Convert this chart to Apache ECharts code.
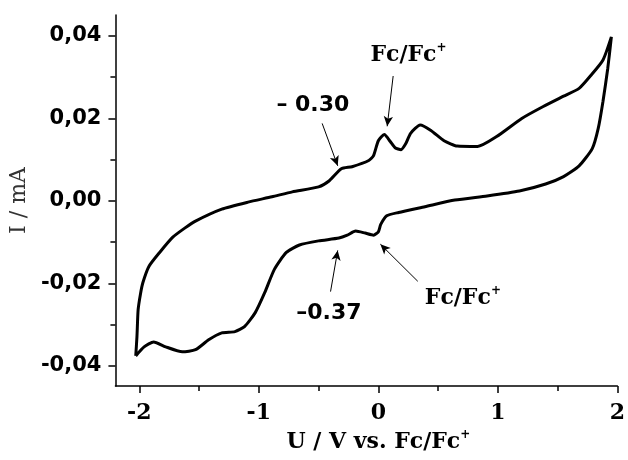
<!DOCTYPE html>
<html>
<head>
<meta charset="utf-8">
<script src="https://cdn.jsdelivr.net/npm/echarts@6/dist/echarts.min.js"></script>
<style>html,body{margin:0;padding:0;background:#fff}#c{width:628px;height:460px}</style>
</head>
<body>
<div id="c"></div>
<script>
// Potential (V vs. Fc/Fc+) and current (mA) along the cyclic scan
var potential = [
  -2.03,-2.02,-2.01,-1.99,-1.97,-1.92,-1.83,-1.72,-1.62,-1.53,-1.31,-1.09,-0.89,-0.72,-0.50,-0.41,-0.31,-0.22,-0.08,-0.04,
  0.00,0.05,0.10,0.14,0.19,0.23,0.27,0.35,0.44,0.55,0.66,0.83,0.99,1.20,1.38,1.55,1.68,1.78,1.88,1.95,
  1.92,1.88,1.84,1.79,1.68,1.55,1.40,1.18,0.91,0.64,0.39,0.17,0.07,0.02,0.00,-0.04,-0.11,-0.19,-0.26,-0.33,
  -0.50,-0.66,-0.77,-0.87,-0.95,-1.03,-1.12,-1.20,-1.31,-1.42,-1.53,-1.64,-1.78,-1.88,-1.96,-2.03
];
var current = [
  -0.0376,-0.0330,-0.0264,-0.0225,-0.0198,-0.0159,-0.0125,-0.0088,-0.0066,-0.0049,-0.0020,-0.0003,0.0010,0.0022,0.0034,0.0049,0.0078,0.0083,0.0098,0.0110,
  0.0146,0.0161,0.0144,0.0129,0.0124,0.0139,0.0164,0.0184,0.0171,0.0146,0.0133,0.0132,0.0156,0.0200,0.0229,0.0254,0.0273,0.0305,0.0342,0.0398,
  0.0322,0.0242,0.0176,0.0127,0.0085,0.0059,0.0041,0.0024,0.0012,0.0002,-0.0014,-0.0028,-0.0036,-0.0057,-0.0075,-0.0083,-0.0078,-0.0073,-0.0083,-0.0090,
  -0.0097,-0.0107,-0.0125,-0.0166,-0.0222,-0.0271,-0.0305,-0.0317,-0.0320,-0.0337,-0.0361,-0.0366,-0.0354,-0.0342,-0.0354,-0.0376
];
var xTicks = [-2, -1, 0, 1, 2];
var xMinorTicks = [-1.5, -0.5, 0.5, 1.5];
var yTicks = [-0.04, -0.02, 0, 0.02, 0.04];
var yMinorTicks = [-0.03, -0.01, 0.01, 0.03];
var yTickLabels = ['-0,04', '-0,02', '0,00', '0,02', '0,04'];

// Annotations: text and anchor points (data coords)
var noteTexts = ['– 0.30', 'Fc/Fc{sup|+}', '–0.37', 'Fc/Fc{sup|+}'];
var noteX = [-0.853, -0.066, -0.687, 0.389];
var noteY = [0.0233, 0.0354, -0.0272, -0.0235];
var arrowFromX = [-0.47, 0.124, -0.40, 0.33];
var arrowFromY = [0.0188, 0.0303, -0.0220, -0.0195];
var arrowToX = [-0.34, 0.074, -0.34, 0.017];
var arrowToY = [0.0085, 0.0181, -0.0120, -0.0105];

var loop = potential.map(function (u, i) { return [u, current[i]]; });

var supRich = { sup: { fontFamily: 'DejaVu Serif', fontWeight: 'bold', fontSize: 12, verticalAlign: 'top', lineHeight: 12, color: '#000' } };

var notes = noteTexts.map(function (t, i) {
  var isSerif = t.indexOf('Fc') === 0;
  return {
    value: [noteX[i], noteY[i]],
    label: {
      show: true, position: [0, 0], align: 'left', verticalAlign: 'middle',
      formatter: t, fontFamily: isSerif ? 'DejaVu Serif' : 'DejaVu Sans', fontWeight: 'bold',
      fontSize: 22, color: '#000', opacity: 1, lineHeight: 26, rich: supRich
    }
  };
});

var arrows = arrowFromX.map(function (x, i) {
  return [
    { coord: [x, arrowFromY[i]], symbol: 'none' },
    { coord: [arrowToX[i], arrowToY[i]], symbol: 'arrow', symbolSize: [7, 10] }
  ];
});

var chart = echarts.init(document.getElementById('c'), null, { renderer: 'canvas' });
var axisLine = { show: true, onZero: false, lineStyle: { color: '#000', width: 1.5 } };
chart.setOption({
  animation: false,
  backgroundColor: '#fff',
  grid: { left: 115, right: 6, top: 15, bottom: 74 },
  xAxis: [{
    type: 'value', min: -2.2, max: 2, position: 'bottom',
    axisLine: axisLine, splitLine: { show: false },
    axisTick: { show: true, customValues: xTicks, length: 7, inside: false, lineStyle: { color: '#000', width: 1.5 } },
    axisLabel: { customValues: xTicks, margin: 16, fontFamily: 'DejaVu Serif', fontWeight: 'bold', fontSize: 22, color: '#000',
      formatter: function (v) { return String(Math.round(v)); } },
    name: 'U / V vs. Fc/Fc{sup|+}', nameLocation: 'middle', nameGap: 40,
    nameTextStyle: { fontFamily: 'DejaVu Serif', fontWeight: 'bold', fontSize: 22, color: '#000', padding: [0, 0, 0, 24], lineHeight: 26, rich: supRich }
  }, {
    type: 'value', min: -2.2, max: 2, position: 'bottom',
    axisLine: { show: false, onZero: false }, splitLine: { show: false }, axisLabel: { show: false },
    axisTick: { show: true, customValues: xMinorTicks, length: 5, lineStyle: { color: '#000', width: 1.5 } }
  }],
  yAxis: [{
    type: 'value', min: -0.0449, max: 0.0451, position: 'left',
    axisLine: axisLine, splitLine: { show: false },
    axisTick: { show: true, customValues: yTicks, length: 7, lineStyle: { color: '#000', width: 1.5 } },
    axisLabel: { customValues: yTicks, margin: 14, fontFamily: 'DejaVu Sans', fontWeight: 'bold', fontSize: 21, color: '#000',
      formatter: function (v) { var i = yTicks.findIndex(function (t) { return Math.abs(t - v) < 1e-9; }); return i >= 0 ? yTickLabels[i] : ''; } },
    name: 'I / mA', nameLocation: 'middle', nameGap: 72, nameRotate: 90,
    nameTextStyle: { fontFamily: 'DejaVu Serif', fontWeight: 'normal', fontSize: 22, color: '#333' }
  }, {
    type: 'value', min: -0.0449, max: 0.0451, position: 'left',
    axisLine: { show: false, onZero: false }, splitLine: { show: false }, axisLabel: { show: false },
    axisTick: { show: true, customValues: yMinorTicks, length: 5, lineStyle: { color: '#000', width: 1.5 } }
  }],
  series: [{
    type: 'line', data: loop, showSymbol: false, smooth: 0.2,
    lineStyle: { color: '#000', width: 3 }, itemStyle: { color: '#000' },
    markLine: {
      silent: true, symbol: ['none', 'arrow'], symbolSize: 10,
      label: { show: false }, lineStyle: { color: '#000', width: 1, type: 'solid' },
      itemStyle: { color: '#000' },
      data: arrows
    }
  }, {
    type: 'scatter', data: notes, symbolSize: 0, silent: true,
    itemStyle: { opacity: 1, color: '#000' }
  }]
});
</script>
</body>
</html>
